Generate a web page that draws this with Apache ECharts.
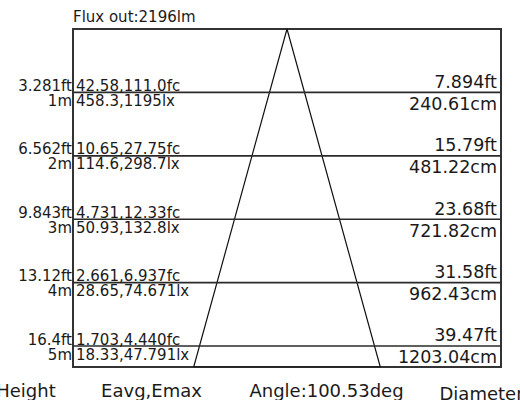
<!DOCTYPE html>
<html>
<head>
<meta charset="utf-8">
<script src="https://cdn.jsdelivr.net/npm/echarts@6/dist/echarts.min.js"></script>
<style>html,body{margin:0;padding:0;background:#fff}#c{width:520px;height:400px}</style>
</head>
<body>
<div id="c"></div>
<script>
// ---- data ----
const fluxOut = 'Flux out:2196lm';
const beamAngle = 'Angle:100.53deg';
const distancesM = [1, 2, 3, 4, 5];
const heightFt = ['3.281', '6.562', '9.843', '13.12', '16.4'];
const eavgFc = ['42.58', '10.65', '4.731', '2.661', '1.703'];
const emaxFc = ['111.0', '27.75', '12.33', '6.937', '4.440'];
const eavgLx = ['458.3', '114.6', '50.93', '28.65', '18.33'];
const emaxLx = ['1195', '298.7', '132.8', '74.671', '47.791'];
const diameterFt = ['7.894', '15.79', '23.68', '31.58', '39.47'];
const diameterCm = ['240.61', '481.22', '721.82', '962.43', '1203.04'];
const columnTitles = ['Height', 'Eavg,Emax', 'Diameter'];

// ---- layout constants (schematic) ----
const depthMax = 5.33;      // distance shown at the bottom edge of the box
const beamHalf = 0.436;     // schematic half-width of the beam at the bottom edge
const FONT = '"DejaVu Sans", Verdana, sans-serif';
const TXT = '#1a1a1a';

const chart = echarts.init(document.getElementById('c'), null, { renderer: 'svg' });

function txt(x, y, s, size, align) {
  return { type: 'text', x: x, y: y, style: { text: s, fill: TXT, fontSize: size, fontFamily: FONT, align: align, verticalAlign: 'middle' } };
}

chart.setOption({
  animation: false,
  backgroundColor: '#fff',
  grid: { left: 73, right: 19, top: 29, bottom: 33, show: true, borderColor: '#333', borderWidth: 2, backgroundColor: 'transparent' },
  xAxis: { type: 'value', min: -1, max: 1, show: false },
  yAxis: { type: 'value', min: 0, max: depthMax, inverse: true, show: false },
  graphic: [
    { type: 'text', left: 73, top: 9, style: { text: fluxOut, fill: TXT, fontSize: 15, fontFamily: FONT } },
    { type: 'text', x: 26, y: 390, style: { text: columnTitles[0], fill: TXT, fontSize: 18, fontFamily: FONT, align: 'center', verticalAlign: 'middle' } },
    { type: 'text', x: 151.5, y: 390, style: { text: columnTitles[1], fill: TXT, fontSize: 18, fontFamily: FONT, align: 'center', verticalAlign: 'middle' } },
    { type: 'text', x: 326.5, y: 390.5, style: { text: beamAngle, fill: TXT, fontSize: 18, fontFamily: FONT, align: 'center', verticalAlign: 'middle' } },
    { type: 'text', x: 439.5, y: 393, style: { text: columnTitles[2], fill: TXT, fontSize: 18, fontFamily: FONT, align: 'left', verticalAlign: 'middle' } }
  ],
  series: [
    {
      type: 'line',
      data: [[-beamHalf, depthMax], [0, 0], [beamHalf, depthMax], [-beamHalf, depthMax]],
      symbol: 'none',
      lineStyle: { color: '#111', width: 1.2 },
      silent: true,
      z: 3
    },
    {
      type: 'custom',
      data: distancesM.map(function (d) { return [0, d]; }),
      renderItem: function (params, api) {
        const i = params.dataIndex;
        const d = api.value(1);
        const pL = api.coord([-1, d]);
        const pR = api.coord([1, d]);
        const y = pL[1];
        const xl = pL[0], xr = pR[0];
        return {
          type: 'group',
          children: [
            { type: 'line', shape: { x1: xl, y1: y, x2: xr, y2: y }, style: { stroke: '#2a2a2a', lineWidth: 1.6 } },
            txt(xl - 1, y - 6.5, heightFt[i] + 'ft', 15, 'right'),
            txt(xl - 1, y + 8.5, distancesM[i] + 'm', 15, 'right'),
            txt(xl + 3, y - 6.5, eavgFc[i] + ',' + emaxFc[i] + 'fc', 15, 'left'),
            txt(xl + 3, y + 8.5, eavgLx[i] + ',' + emaxLx[i] + 'lx', 15, 'left'),
            txt(xr - 4, y - 10.7, diameterFt[i] + 'ft', 17.5, 'right'),
            txt(xr - 4, y + 11.3, diameterCm[i] + 'cm', 17.5, 'right')
          ]
        };
      },
      z: 4
    }
  ]
});
</script>
</body>
</html>
